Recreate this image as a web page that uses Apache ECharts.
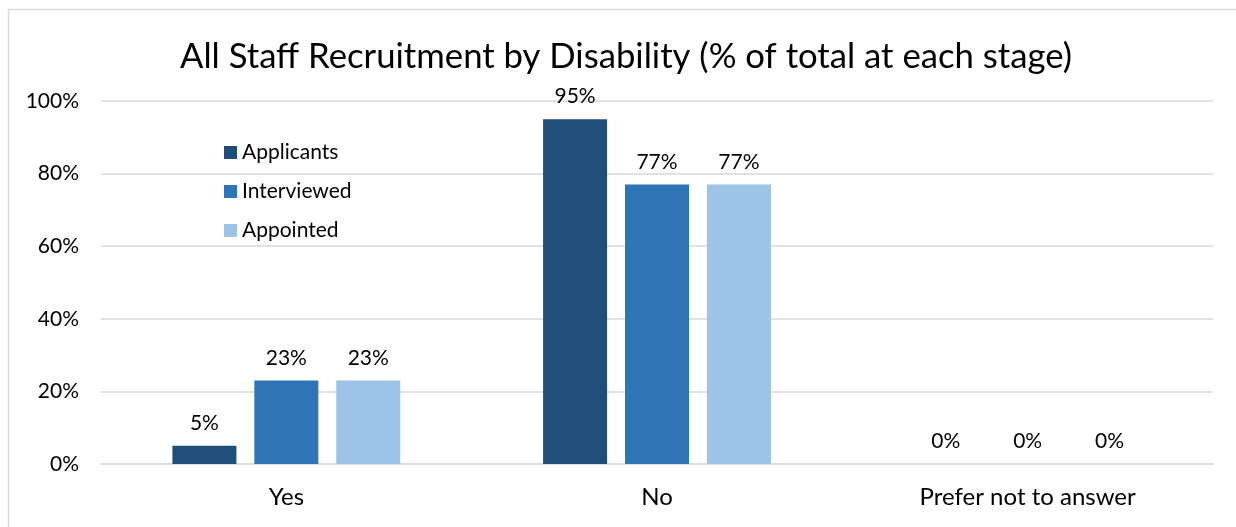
<!DOCTYPE html>
<html>
<head>
<meta charset="utf-8">
<script src="https://cdn.jsdelivr.net/npm/echarts@6/dist/echarts.min.js"></script>
<style>
  html, body { margin: 0; padding: 0; background: #ffffff; }
  #chart { width: 1236px; height: 527px; }
</style>
</head>
<body>
<div id="chart"></div>
<script>
// Recruitment stages broken down by disability status
const categories = ['Yes', 'No', 'Prefer not to answer'];
const applicants = [5, 95, 0];
const interviewed = [23, 77, 0];
const appointed = [23, 77, 0];
const yTicks = [0, 20, 40, 60, 80, 100];

const FONT = 'Lato, "Open Sans", sans-serif';
const colors = ['#1F4E79', '#2E75B6', '#9DC3E6'];

const chart = echarts.init(document.getElementById('chart'), null, { renderer: 'canvas' });

function barSeries(name, data, color) {
  return {
    name: name,
    type: 'bar',
    data: data,
    barWidth: 64,
    barGap: '28%',
    itemStyle: { color: color },
    label: {
      show: true,
      position: 'top',
      distance: 12,
      formatter: p => p.value + '%',
      color: '#000000',
      fontFamily: FONT,
      fontSize: 21
    }
  };
}

chart.setOption({
  animation: false,
  backgroundColor: '#ffffff',
  title: {
    text: 'All Staff Recruitment by Disability (% of total at each stage)',
    left: 621,
    textAlign: 'center',
    top: 34,
    textStyle: { fontFamily: FONT, fontSize: 34.7, fontWeight: 'normal', color: '#000000' }
  },
  graphic: [{
    type: 'polyline',
    shape: { points: [[8.5, 540], [8.5, 9.5], [1250, 9.5]] },
    style: { stroke: '#d9d9d9', lineWidth: 1.5, fill: null },
    silent: true
  }],
  legend: {
    orient: 'vertical',
    left: 219,
    top: 137,
    itemWidth: 13,
    itemHeight: 13,
    itemGap: 18,
    icon: 'rect',
    textStyle: { fontFamily: FONT, fontSize: 21, lineHeight: 20, color: '#000000' },
    data: ['Applicants', 'Interviewed', 'Appointed']
  },
  grid: { left: 101, right: 23, top: 101, bottom: 63, containLabel: false },
  xAxis: {
    type: 'category',
    data: categories,
    axisLine: { show: true, lineStyle: { color: '#d9d9d9', width: 1.5 } },
    axisTick: { show: false },
    axisLabel: { fontFamily: FONT, fontSize: 24, color: '#000000', margin: 21 }
  },
  yAxis: {
    type: 'value',
    min: yTicks[0],
    max: yTicks[yTicks.length - 1],
    interval: 20,
    axisLine: { show: false },
    axisTick: { show: false },
    splitLine: { lineStyle: { color: '#d9d9d9', width: 1.5 } },
    axisLabel: { formatter: v => v + '%', fontFamily: FONT, fontSize: 21, color: '#000000', margin: 22 }
  },
  series: [
    barSeries('Applicants', applicants, colors[0]),
    barSeries('Interviewed', interviewed, colors[1]),
    barSeries('Appointed', appointed, colors[2])
  ]
});
</script>
</body>
</html>
